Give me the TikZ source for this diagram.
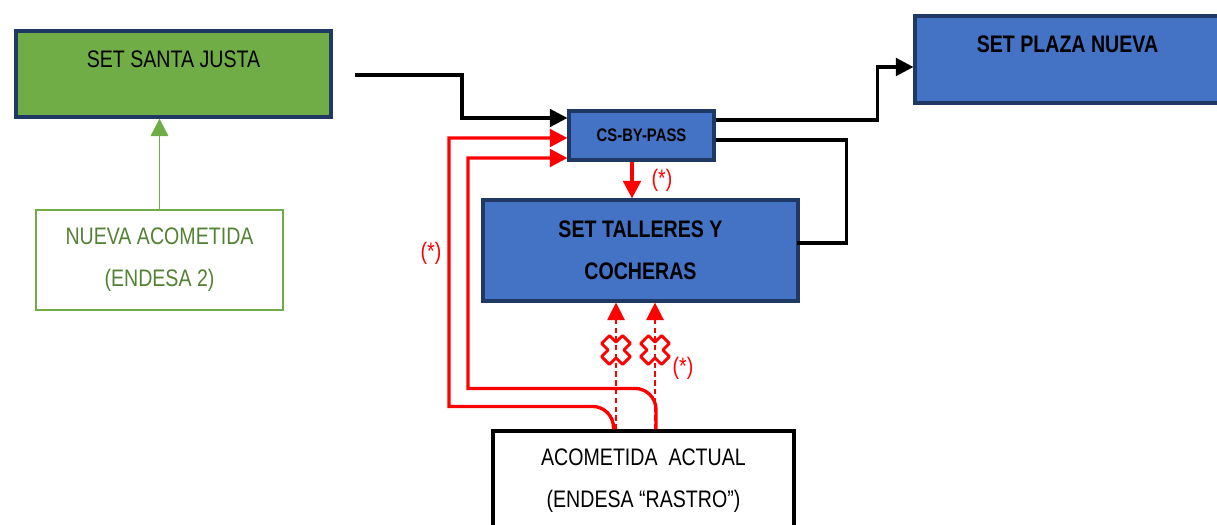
\documentclass[tikz,border=0pt]{standalone}
\usepackage{fontspec}
\setmainfont{Liberation Sans}[FakeStretch=0.82]
\usepackage{xcolor}
\usepackage{tikz}
\usetikzlibrary{arrows.meta, positioning, calc}
\definecolor{setBlue}{RGB}{68, 114, 196}
\definecolor{setBorder}{RGB}{32, 56, 100}
\definecolor{setGreen}{RGB}{112, 173, 71}
\definecolor{greenText}{RGB}{84, 130, 53}
\definecolor{feedRed}{RGB}{255, 0, 0}

\tikzset{
    xmark/.pic={
        \draw[feedRed, line width=1.7pt, fill=white, line join=round, scale=10.5]
            (0,0.75) -- (0.62,1.37) -- (1.37,0.62) -- (0.75,0) -- (1.37,-0.62) -- (0.62,-1.37)
            -- (0,-0.75) -- (-0.62,-1.37) -- (-1.37,-0.62) -- (-0.75,0) -- (-1.37,0.62) -- (-0.62,1.37) -- cycle;
    }
}

\begin{document}
\begin{tikzpicture}[
    x=0.02cm, y=-0.02cm,
    every node/.style={font=\fontsize{13.6}{23.8}\selectfont},
    station/.style={rectangle, draw=setBorder, line width=1.8pt, fill=setBlue, align=center, font=\fontsize{13.6}{23.8}\selectfont\bfseries},
    santa/.style={rectangle, draw=setBorder, line width=1.8pt, fill=setGreen, align=center},
    newfeed/.style={rectangle, draw=setGreen, line width=1.5pt, fill=white, text=greenText, align=center},
    oldfeed/.style={rectangle, draw=black, line width=1.8pt, fill=white, align=center},
    line/.style={draw=black, line width=1.9pt, -{Triangle[length=10pt, width=10pt]}},
    plainline/.style={draw=black, line width=1.9pt},
    redline/.style={draw=feedRed, line width=1.9pt, -{Triangle[length=10pt, width=10pt]}},
    dashline/.style={draw=feedRed, line width=0.75pt, dash pattern=on 3pt off 2pt, -{Triangle[length=10pt, width=10pt]}},
    greenline/.style={draw=setGreen, line width=1pt, -{Triangle[length=10pt, width=10pt]}},
    starlbl/.style={text=feedRed, inner sep=0pt}
]
\clip (0,0) rectangle (1217,524);

% Nodes
\node (sj) [santa, minimum width=6.3cm, minimum height=1.72cm] at (173.5,74) {SET SANTA JUSTA\\[-6.8pt]\mbox{}};
\node (na) [newfeed, minimum width=4.94cm, minimum height=2cm] at (159.5,260) {NUEVA ACOMETIDA\\(ENDESA 2)};
\node (pn) [station, minimum width=6.1cm, minimum height=1.74cm] at (1067.5,59.5) {SET PLAZA NUEVA\\[-6.8pt]\mbox{}};
\node (cs) [station, minimum width=2.9cm, minimum height=0.98cm, font=\fontsize{10.3}{12}\selectfont\bfseries] at (641.5,135.5) {CS-BY-PASS};
\node (tc) [station, minimum width=6.3cm, minimum height=2.02cm] at (640.5,250.5) {SET TALLERES Y\\COCHERAS};
\node (act) [oldfeed, minimum width=6.02cm, minimum height=1.98cm] at (643.5,480.5) {ACOMETIDA\ \ ACTUAL\\(ENDESA “RASTRO”)};
\coordinate (sjout) at (355,75);

% Crosses
\pic (xa) at (616,350) {xmark};
\pic (xb) at (655,350) {xmark};

% Labels
\node (st1) [starlbl] at (662,180) {(*)};
\node (st2) [starlbl] at (431,253) {(*)};
\node (st3) [starlbl] at (683,368) {(*)};

% Connectors
\draw [greenline] (na.north) -- (na.north |- sj.south);
\path [line] (sjout) -- ++(107,0) |- ($(cs.west)+(0,-17.5)$);
\path [line] ($(cs.east)+(0,-15.5)$) -- ++(162,0) |- ($(pn.west)+(0,7.5)$);
\path [plainline] ($(cs.east)+(0,4.5)$) -- ++(131,0) |- ($(tc.east)+(-3,-7.5)$);
\path [redline] ($(cs.south)+(-9.5,0)$) -- ($(tc.north)+(-8.5,0)$);
\path [redline] ($(act.north)+(-30,0)$) [rounded corners=12pt] |- ++(-40,-23) [sharp corners] -- ++(-124.5,0) |- ($(cs.west)+(0,2.5)$);
\path [redline] ($(act.north)+(12.5,0)$) [rounded corners=12pt] |- ++(-40,-41) [sharp corners] -- ++(-148,0) |- ($(cs.west)+(0,22.5)$);
\path [dashline] ($(act.north)+(-27.5,0)$) -- ($(tc.south)+(-24.5,0)$);
\path [dashline] ($(act.north)+(11.5,0)$) -- ($(tc.south)+(14.5,0)$);

\end{tikzpicture}
\end{document}
